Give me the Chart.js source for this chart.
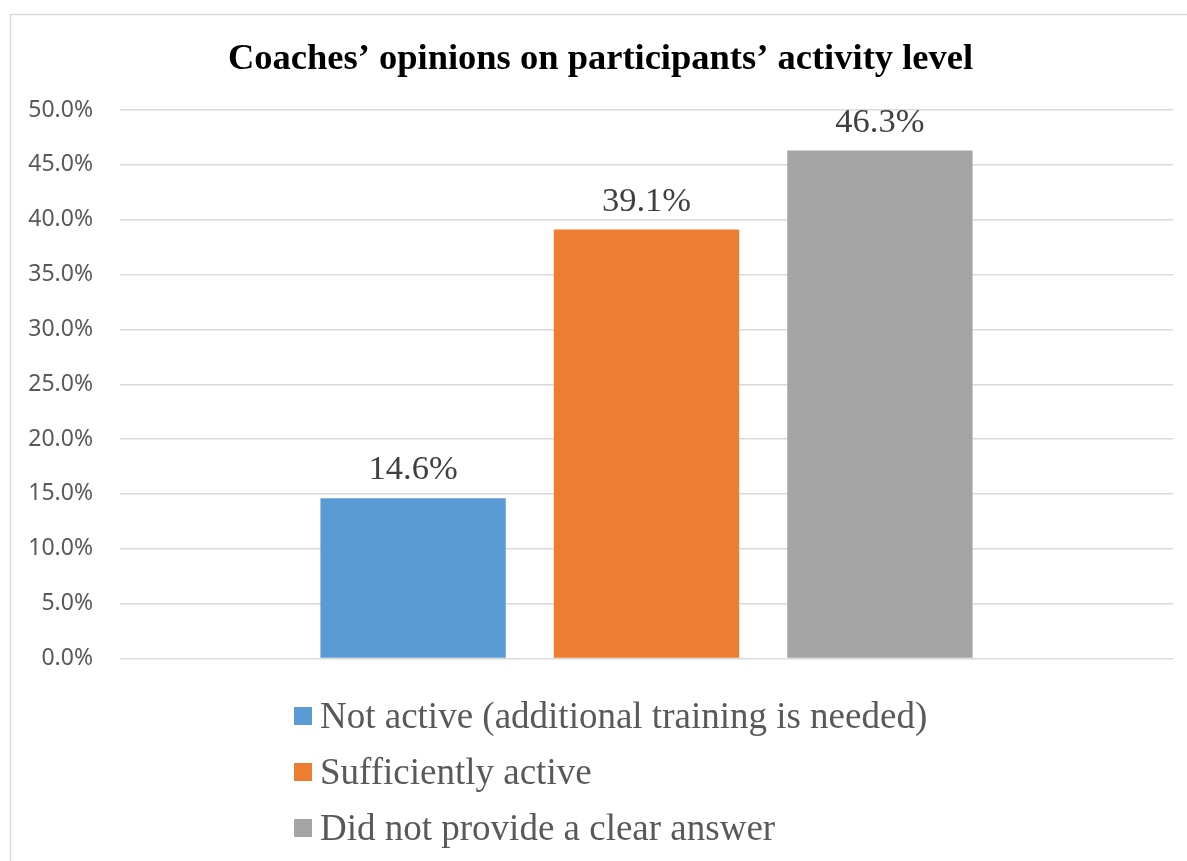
<!DOCTYPE html>
<html>
<head>
<meta charset="utf-8">
<title>Coaches’ opinions on participants’ activity level</title>
<script src="https://cdn.jsdelivr.net/npm/chart.js@4.4.1/dist/chart.umd.min.js"></script>
<style>
  html, body { margin: 0; padding: 0; background: #fff; overflow: hidden; }
  #wrap { position: relative; width: 1187px; height: 861px; }
</style>
</head>
<body>
<div id="wrap"><canvas id="chart"></canvas></div>
<script>
'use strict';

// Data
var chartTitle = 'Coaches’ opinions on participants’ activity level';
var categories = [''];
var seriesNames = ['Not active (additional training is needed)', 'Sufficiently active', 'Did not provide a clear answer'];
var seriesValues = [14.6, 39.1, 46.3];
var seriesColors = ['#5B9BD5', '#ED7D31', '#A5A5A5'];
var yTicks = [0, 5, 10, 15, 20, 25, 30, 35, 40, 45, 50];

var SERIF = '"Liberation Serif", "Times New Roman", serif';

// Outer frame, title, value labels and the one-per-line legend
var decor = {
  id: 'decor',
  beforeDraw: function (chart) {
    var ctx = chart.ctx;
    ctx.save();
    ctx.strokeStyle = '#d9d9d9';
    ctx.lineWidth = 1.5;
    ctx.strokeRect(10.5, 14.5, 2000, 2000);
    ctx.restore();
  },
  afterDraw: function (chart) {
    var ctx = chart.ctx;
    ctx.save();
    ctx.fillStyle = '#000';
    ctx.font = 'bold 36.5px ' + SERIF;
    ctx.textAlign = 'center';
    ctx.textBaseline = 'alphabetic';
    ctx.fillText(chartTitle, 600.5, 69);

    // value labels above bars
    ctx.fillStyle = '#404040';
    ctx.font = '34.5px ' + SERIF;
    chart.data.datasets.forEach(function (ds, i) {
      var bar = chart.getDatasetMeta(i).data[0];
      ctx.fillText(ds.data[0].toFixed(1) + '%', bar.x, bar.y - 19);
    });

    // legend
    ctx.textAlign = 'left';
    ctx.font = '37px ' + SERIF;
    chart.data.datasets.forEach(function (ds, i) {
      var base = 728 + i * 56;
      ctx.fillStyle = ds.backgroundColor;
      ctx.fillRect(294, base - 21, 18, 18);
      ctx.fillStyle = '#595959';
      ctx.fillText(ds.label, 320, base);
    });
    ctx.restore();
  }
};

new Chart(document.getElementById('chart').getContext('2d'), {
  type: 'bar',
  data: {
    labels: categories,
    datasets: seriesNames.map(function (name, i) {
      return { label: name, data: [seriesValues[i]], backgroundColor: seriesColors[i], borderWidth: 0 };
    })
  },
  options: {
    responsive: true, maintainAspectRatio: false, animation: false,
    devicePixelRatio: 1,
    layout: { padding: { top: 110, right: 14, bottom: 202.5, left: 0 } },
    categoryPercentage: 0.665,
    barPercentage: 0.794,
    plugins: { legend: { display: false }, title: { display: false }, tooltip: { enabled: false } },
    scales: {
      x: { display: false },
      y: {
        min: 0, max: 50,
        afterFit: function (s) { s.width = 120; },
        afterBuildTicks: function (s) { s.ticks = yTicks.map(function (v) { return { value: v }; }); },
        border: { display: false },
        grid: { color: '#d9d9d9', lineWidth: 1.5, drawTicks: false },
        ticks: {
          padding: 27, color: '#595959',
          font: { family: '"Noto Sans", "Liberation Sans", Arial, sans-serif', size: 23 },
          callback: function (v) { return v.toFixed(1) + '%'; }
        }
      }
    }
  },
  plugins: [decor]
});
</script>
</body>
</html>
